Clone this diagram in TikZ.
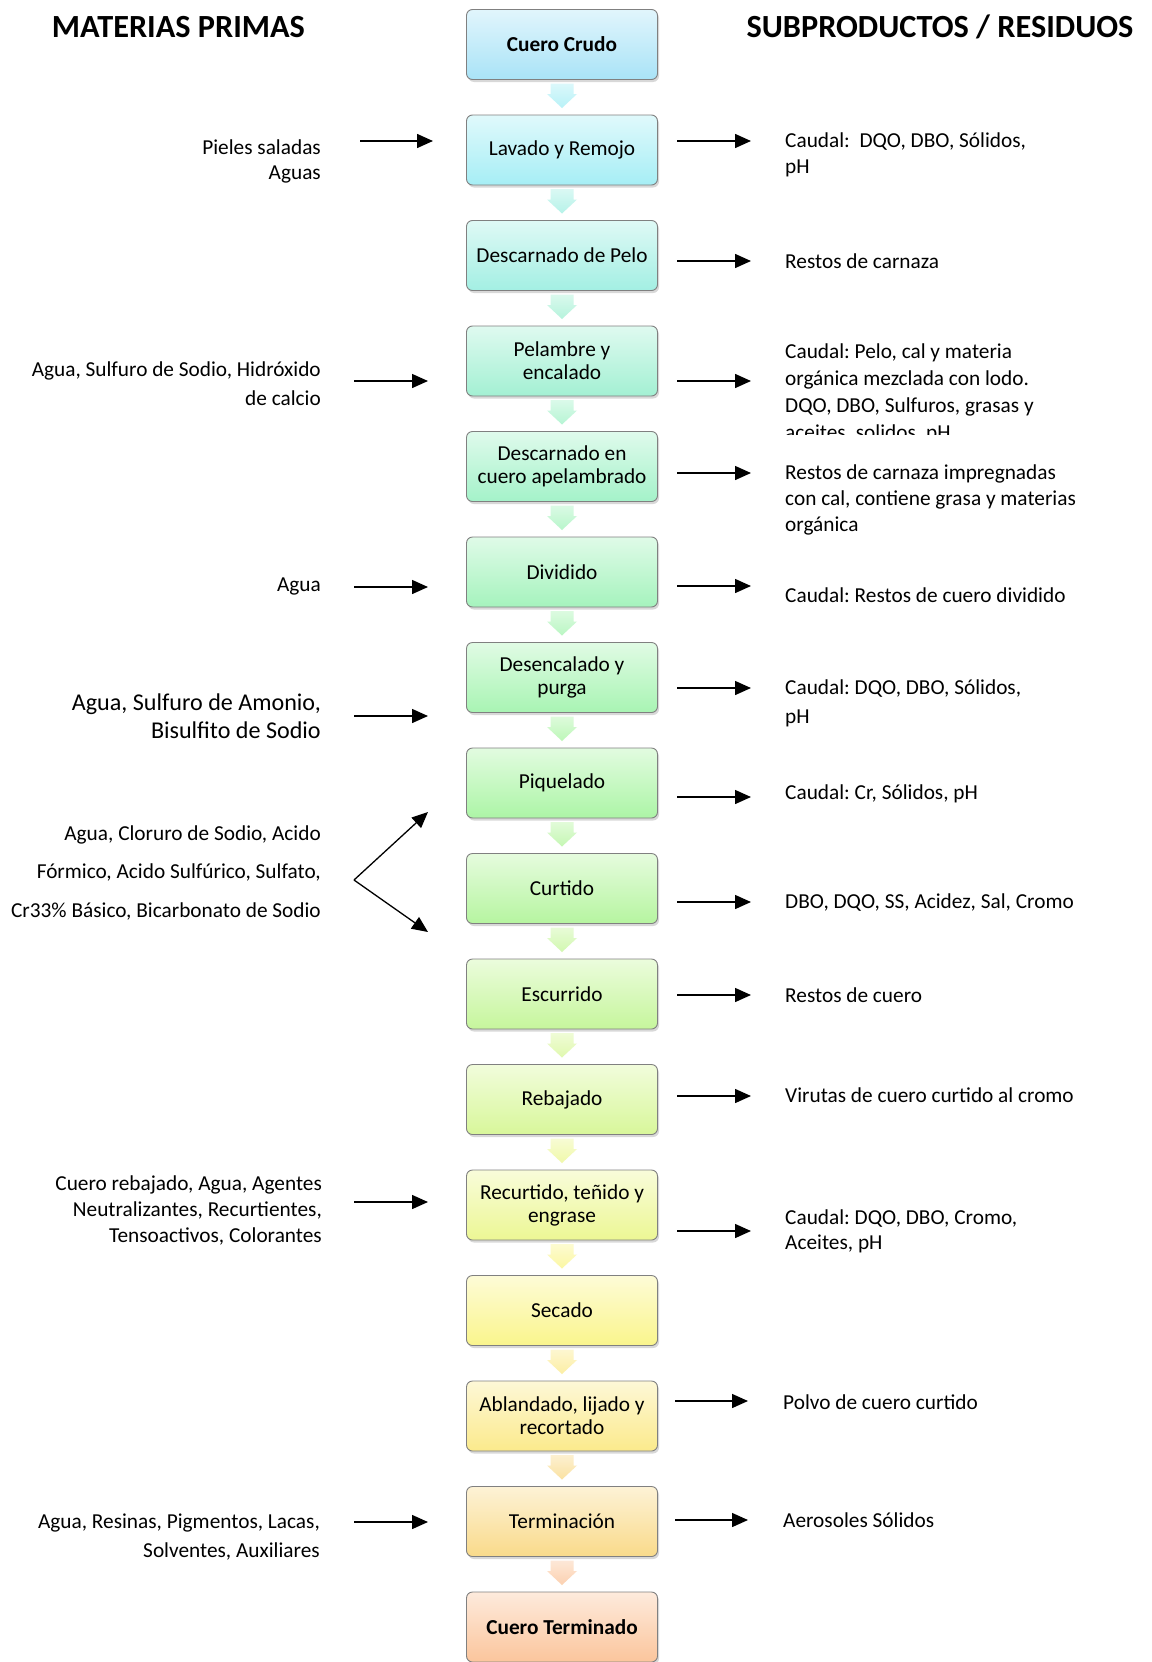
\documentclass[tikz,border=0pt]{standalone}
\usepackage{fontspec}
\setmainfont{Carlito}
\usetikzlibrary{arrows.meta,shadows,calc}
\frenchspacing

% step colours, from the raw hide (blue) to the finished leather (peach)
\definecolor{c0}{HTML}{A9E3F7}
\definecolor{c1}{HTML}{A6EEF5}
\definecolor{c2}{HTML}{A3EFE3}
\definecolor{c3}{HTML}{A3F0D3}
\definecolor{c4}{HTML}{A4F2C9}
\definecolor{c5}{HTML}{A5F3BD}
\definecolor{c6}{HTML}{A8F4B3}
\definecolor{c7}{HTML}{ACF5A6}
\definecolor{c8}{HTML}{B6F5A0}
\definecolor{c9}{HTML}{C6F69C}
\definecolor{c10}{HTML}{D8F79A}
\definecolor{c11}{HTML}{ECF794}
\definecolor{c12}{HTML}{FAF58C}
\definecolor{c13}{HTML}{FBEA8C}
\definecolor{c14}{HTML}{F9DA8A}
\definecolor{c15}{HTML}{FBC59C}

\begin{document}
\begin{tikzpicture}[x=1pt,y=-1pt,
  procbox/.style={rectangle, rounded corners=6pt, draw=black!50, line width=0.9pt,
    minimum width=191pt, minimum height=70pt, inner sep=2pt, outer sep=0pt,
    align=center, font=\fontsize{21.3pt}{23pt}\selectfont,
    top color=#1!35!white, bottom color=#1,
    drop shadow={shadow xshift=1.5pt, shadow yshift=-2.5pt, opacity=0.3}},
  heading/.style={inner sep=0pt, font=\bfseries\fontsize{32.3pt}{37pt}\selectfont},
  lefttxt/.style={anchor=east, align=right, inner sep=0pt, yshift=-1.3pt,
    font=\fontsize{21.3pt}{#1}\selectfont},
  lefttxt/.default=26pt,
  righttxt/.style={anchor=west, align=left, inner sep=0pt, yshift=-1.3pt,
    font=\fontsize{21.3pt}{#1}\selectfont},
  righttxt/.default=26pt,
  flowarrow/.style={line width=1.5pt, -{Triangle[length=16pt,width=14pt]}}
]
\useasboundingbox[fill=white] (0,0) rectangle (1151,1662);

% column headings
\node[heading] (hin) at (178.5,27) {MATERIAS PRIMAS};
\node[heading] (hout) at (940,27) {SUBPRODUCTOS / RESIDUOS};

% process steps
\node[procbox=c0]  (b0)  at (562,44.5)   {\textbf{Cuero Crudo}};
\node[procbox=c1]  (b1)  at (562,150)    {Lavado y Remojo};
\node[procbox=c2]  (b2)  at (562,255.5)  {Descarnado de Pelo};
\node[procbox=c3]  (b3)  at (562,361)    {Pelambre y\\encalado};
\node[procbox=c4]  (b4)  at (562,466.5)  {Descarnado en\\cuero apelambrado};
\node[procbox=c5]  (b5)  at (562,572)    {Dividido};
\node[procbox=c6]  (b6)  at (562,677.5)  {Desencalado y\\purga};
\node[procbox=c7]  (b7)  at (562,783)    {Piquelado};
\node[procbox=c8]  (b8)  at (562,888.5)  {Curtido};
\node[procbox=c9]  (b9)  at (562,994)    {Escurrido};
\node[procbox=c10] (b10) at (562,1099.5) {Rebajado};
\node[procbox=c11] (b11) at (562,1205)   {Recurtido, teñido y\\engrase};
\node[procbox=c12] (b12) at (562,1310.5) {Secado};
\node[procbox=c13] (b13) at (562,1416)   {Ablandado, lijado y\\recortado};
\node[procbox=c14] (b14) at (562,1521.5) {Terminación};
\node[procbox=c15] (b15) at (562,1627)   {\textbf{Cuero Terminado}};

% block arrows between consecutive steps
\foreach \i/\j in {0/1,1/2,2/3,3/4,4/5,5/6,6/7,7/8,8/9,9/10,10/11,11/12,12/13,13/14,14/15}{
  \path[top color=c\j!40!white, bottom color=c\j!80!white]
    ($(b\i.south)+(-11.5,4)$) -- ($(b\i.south)+(11.5,4)$)
    -- ($(b\i.south)+(11.5,14.5)$) -- ($(b\i.south)+(15,14.5)$)
    -- ($(b\j.north)+(0,-7)$)
    -- ($(b\i.south)+(-15,14.5)$) -- ($(b\i.south)+(-11.5,14.5)$) -- cycle;
}

% raw materials
\node[lefttxt=25pt] (in1) at (321,160.5) {Pieles saladas\\Aguas};
\node[lefttxt=29pt] (in3) at (321,382.5) {Agua, Sulfuro de Sodio, Hidróxido\\de calcio};
\node[lefttxt] (in5) at (321,585) {Agua};
\node[anchor=east, align=right, inner sep=0pt, yshift=-0.5pt,
  font=\fontsize{24.1pt}{28pt}\selectfont]
  (in6) at (321,716) {Agua, Sulfuro de Amonio,\\Bisulfito de Sodio};
\node[lefttxt=38.5pt] (in78) at (321,871.5)
  {Agua, Cloruro de Sodio, Acido\\Fórmico, Acido Sulfúrico, Sulfato,\\Cr33\% Básico, Bicarbonato de Sodio};
\node[lefttxt=26pt] (in11) at (322,1209)
  {Cuero rebajado, Agua, Agentes\\Neutralizantes, Recurtientes,\\Tensoactivos, Colorantes};
\node[lefttxt=29pt] (in14) at (320,1536) {Agua, Resinas, Pigmentos, Lacas,\\Solventes, Auxiliares};

% by-products and waste
\node[righttxt=26pt] (out1) at (785,154) {Caudal:~~DQO, DBO, Sólidos,\\pH};
\node[righttxt] (out2) at (785,260) {Restos de carnaza};
\begin{scope}
  \clip (700,300) rectangle (1151,434);
  \node[righttxt=27pt, yshift=-1.2pt] (out3) at (785,390.5)
    {Caudal: Pelo, cal y materia\\orgánica mezclada con lodo.\\DQO, DBO, Sulfuros, grasas y\\aceites, solidos, pH};
\end{scope}
\node[righttxt=26pt] (out4) at (785,499)
  {Restos de carnaza impregnadas\\con cal, contiene grasa y materias\\orgánica};
\node[righttxt] (out5) at (785,594) {Caudal: Restos de cuero dividido};
\node[righttxt=29pt] (out6) at (785,702.5) {Caudal: DQO, DBO, Sólidos,\\pH};
\node[righttxt] (out7) at (785,793) {Caudal: Cr, Sólidos, pH};
\node[righttxt] (out8) at (785,901) {DBO, DQO, SS, Acidez, Sal, Cromo};
\node[righttxt] (out9) at (785,994) {Restos de cuero};
\node[righttxt] (out10) at (785,1094) {Virutas de cuero curtido al cromo};
\node[righttxt=25pt] (out11) at (785,1230.5) {Caudal: DQO, DBO, Cromo,\\Aceites, pH};
\node[righttxt] (out13) at (783,1401) {Polvo de cuero curtido};
\node[righttxt] (out14) at (783,1519) {Aerosoles Sólidos};

% input arrows
\coordinate (i1s) at (360,141);  \coordinate (i1e) at (433,141);
\coordinate (i3s) at (354,381);  \coordinate (i3e) at (428,381);
\coordinate (i5s) at (354,587);  \coordinate (i5e) at (428,587);
\coordinate (i6s) at (354,716);  \coordinate (i6e) at (428,716);
\coordinate (vtx) at (354,880);  \coordinate (vup) at (428,812);
\coordinate (vdn) at (428,932);
\coordinate (i11s) at (354,1202); \coordinate (i11e) at (428,1202);
\coordinate (i14s) at (354,1522); \coordinate (i14e) at (428,1522);
\foreach \a in {1,3,5,6,11,14}{ \draw[flowarrow] (i\a s) -- (i\a e); }
\draw[flowarrow, line width=1.3pt] (vtx) -- (vup);
\draw[flowarrow, line width=1.3pt] (vtx) -- (vdn);

% output arrows
\foreach \k/\y in {1/141,2/261,3/381,4/473,5/586,6/688,7/797,8/902,9/995,10/1096,11/1231}{
  \coordinate (o\k s) at (677,\y); \coordinate (o\k e) at (751,\y);
  \draw[flowarrow] (o\k s) -- (o\k e);
}
\foreach \k/\y in {13/1401,14/1520}{
  \coordinate (o\k s) at (675,\y); \coordinate (o\k e) at (748,\y);
  \draw[flowarrow] (o\k s) -- (o\k e);
}
\end{tikzpicture}
\end{document}
